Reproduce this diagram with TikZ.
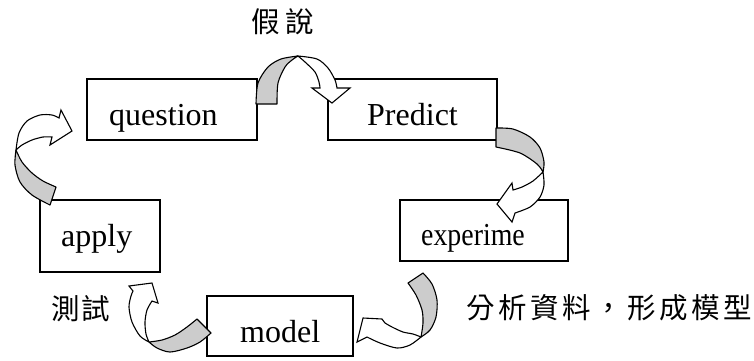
\documentclass[tikz,border=0pt]{standalone}
\usepackage{fontspec}
\usepackage{graphicx}
\setmainfont{Liberation Serif}
\newfontfamily\cjkfont{Noto Sans CJK TC}
\begin{document}
\begin{tikzpicture}[x=1pt,y=-1pt]
\tikzset{
  stagebox/.style={draw, line width=1.2pt, inner sep=0pt},
  stagetext/.style={inner sep=0pt, anchor=base west, font=\fontsize{32}{38}\selectfont},
  cjklabel/.style={inner sep=0pt, anchor=west, font=\cjkfont\fontsize{28.5}{32}\selectfont\addfontfeature{LetterSpace=#1}},
  twistback/.style={draw, fill=gray!40, line width=1.1pt, line join=round},
  twistfront/.style={draw, fill=white, line width=1.1pt, line join=miter},
}
\useasboundingbox (0,0) rectangle (754,360);
\fill[white] (0,0) rectangle (754,360);

% stage boxes
\node[stagebox, minimum width=170pt, minimum height=61pt] (question) at (172,109.5) {};
\node[stagebox, minimum width=169pt, minimum height=61pt] (predict) at (412.5,109.5) {};
\node[stagebox, minimum width=120pt, minimum height=72pt] (apply) at (100,236) {};
\node[stagebox, minimum width=168pt, minimum height=61pt] (experiment) at (484,230.5) {};
\node[stagebox, minimum width=146pt, minimum height=60pt] (model) at (280,326) {};

% box captions
\node[stagetext] (question-t) at (109,125) {question};
\node[stagetext] (predict-t) at (367,125) {Predict};
\node[stagetext] (apply-t) at (61,246) {apply};
\node[stagetext] (experiment-t) at (421,245) {\scalebox{0.87}[1]{experime}};
\node[stagetext] (model-t) at (240,342) {model};

% curved arrow: question -> Predict
\path[twistback] plot[smooth] coordinates {(256,104) (258,83) (268,67) (281,59) (298,56)}
  -- plot[smooth] coordinates {(298,56) (292,60) (285,67) (278,83) (277,104)} -- cycle;
\path[twistfront] plot[smooth] coordinates {(298,56) (317,59) (328,68) (335,80) (337,88)}
  -- (350,88) -- (332,103) -- (312,88) -- (320,88)
  -- plot[smooth] coordinates {(320,88) (319,82) (315,72) (305,62) (298,56)} -- cycle;

% curved arrow: apply -> question
\path[twistback] plot[smooth] coordinates {(50,205) (32,195) (20,182) (15,165) (16,150)}
  -- plot[smooth] coordinates {(16,150) (22,162) (32,173) (43,181) (56,187)} -- cycle;
\path[twistfront] plot[smooth] coordinates {(16,150) (19,133) (27,121) (40,115) (52,115) (59,118)}
  -- (61,110) -- (72,131) -- (50,145) -- (52,137)
  -- plot[smooth] coordinates {(52,137) (43,137) (32,140) (22,145) (16,150)} -- cycle;

% curved arrow: Predict -> experime
\path[twistback] plot[smooth] coordinates {(496,128) (513,129) (530,137) (540,148) (544,162) (543,172)}
  -- plot[smooth] coordinates {(543,172) (537,164) (520,153) (496,147)} -- cycle;
\path[twistfront] plot[smooth] coordinates {(543,172) (544,185) (540,197) (530,207) (515,213)}
  -- (512,222) -- (497,204) -- (512,183) -- (513,190)
  -- plot[smooth] coordinates {(513,190) (522,187) (533,181) (543,172)} -- cycle;

% curved arrow: experime -> model
\path[twistback] plot[smooth] coordinates {(423,273) (432,284) (437,300) (436,317) (430,330) (421,337)}
  -- plot[smooth] coordinates {(421,337) (423,323) (422,310) (416,295) (408,283)} -- cycle;
\path[twistfront] plot[smooth] coordinates {(421,337) (410,345) (397,348) (380,343) (367,337)}
  -- (357,342) -- (363,318) -- (382,319) -- (385,323)
  -- plot[smooth] coordinates {(385,323) (392,327) (403,332) (413,334) (421,337)} -- cycle;

% curved arrow: model -> apply
\path[twistback] plot[smooth] coordinates {(211,333) (200,342) (187,348) (170,352) (157,348) (149,342)}
  -- plot[smooth] coordinates {(149,342) (162,340) (175,335) (187,327) (197,319)} -- cycle;
\path[twistfront] plot[smooth] coordinates {(149,342) (140,336) (132,322) (129,307) (131,296) (133,291)}
  -- (129,286) -- (152,283) -- (158,303) -- (152,301)
  -- plot[smooth] coordinates {(152,301) (147,310) (145,322) (146,334) (149,342)} -- cycle;

% step labels
\node[cjklabel=22] (hypothesis) at (251,21.5) {假說};
\node[cjklabel=8] (testing) at (51,308.5) {測試};
\node[cjklabel=13] (analysis) at (466,308) {分析資料，形成模型};
\end{tikzpicture}
\end{document}
